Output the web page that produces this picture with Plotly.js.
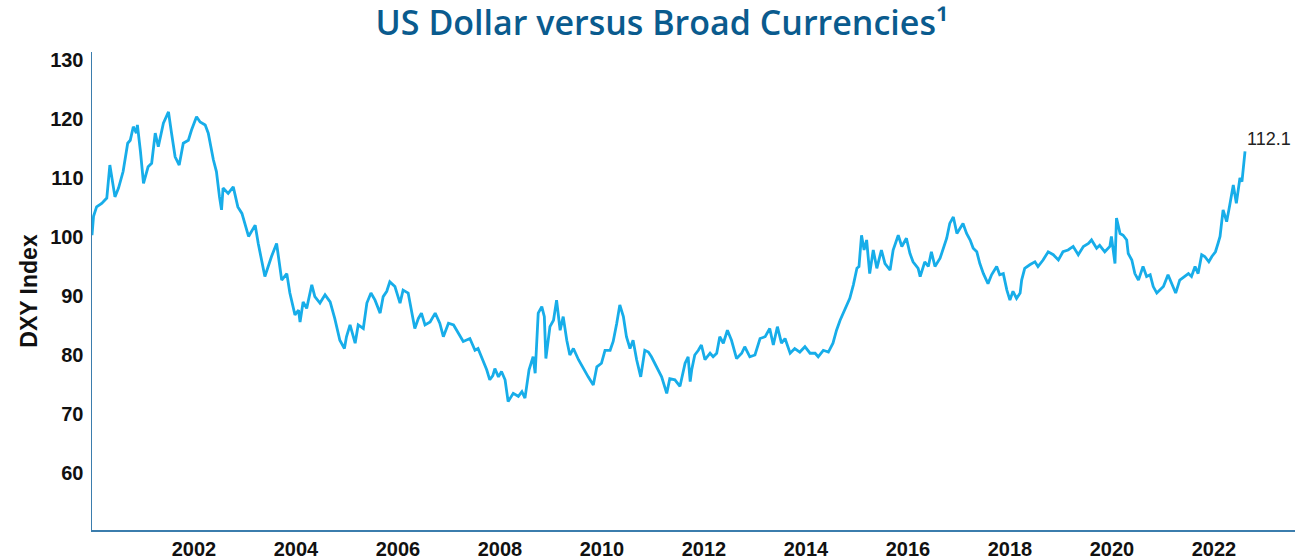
<!DOCTYPE html>
<html>
<head>
<meta charset="utf-8">
<script src="https://cdn.plot.ly/plotly-3.0.1.min.js"></script>
<style>html,body{margin:0;padding:0;background:#fff;}#chart{width:1298px;height:559px;}</style>
</head>
<body>
<div id="chart"></div>
<script>
// Decimal year of each reading
const years = [
2000.00,2000.03,2000.09,2000.19,2000.29,2000.35,2000.45,2000.52,2000.61,2000.70,2000.75,2000.81,2000.87,2000.89,2000.95,
2001.01,2001.10,2001.17,2001.24,2001.30,2001.40,2001.50,2001.56,2001.63,2001.71,2001.79,2001.89,2001.95,
2002.05,2002.12,2002.22,2002.28,2002.38,2002.44,2002.50,2002.54,2002.57,2002.67,2002.77,2002.86,2002.94,
2003.07,2003.20,2003.26,2003.39,2003.52,2003.62,2003.72,2003.82,2003.88,2003.98,
2004.05,2004.08,2004.14,2004.21,2004.31,2004.37,2004.47,2004.57,2004.67,2004.76,2004.86,2004.95,2004.99,
2005.06,2005.16,2005.22,2005.32,2005.39,2005.47,2005.55,2005.65,2005.71,2005.78,2005.84,2005.94,
2006.04,2006.10,2006.20,2006.27,2006.33,2006.40,2006.46,2006.53,2006.63,2006.73,2006.82,2006.89,2006.99,
2007.09,2007.18,2007.28,2007.41,2007.51,2007.57,2007.67,2007.74,2007.80,2007.86,2007.90,2007.97,
2008.03,2008.10,2008.16,2008.26,2008.36,2008.43,2008.49,2008.57,2008.65,2008.69,2008.75,2008.82,2008.87,2008.90,2008.98,
2009.05,2009.11,2009.18,2009.24,2009.31,2009.37,2009.44,2009.54,2009.63,2009.73,2009.83,2009.90,2009.99,
2010.06,2010.16,2010.22,2010.29,2010.35,2010.42,2010.48,2010.55,2010.61,2010.68,2010.76,2010.84,2010.91,2010.97,
2011.07,2011.17,2011.27,2011.33,2011.43,2011.53,2011.63,2011.69,2011.73,2011.76,2011.82,2011.89,2011.95,
2012.02,2012.12,2012.18,2012.25,2012.31,2012.38,2012.46,2012.54,2012.64,2012.74,2012.80,2012.90,
2013.00,2013.10,2013.20,2013.29,2013.36,2013.44,2013.52,2013.59,2013.69,2013.78,2013.88,2013.98,
2014.08,2014.18,2014.24,2014.34,2014.44,2014.53,2014.60,2014.67,2014.73,2014.80,2014.86,2014.93,
2015.00,2015.04,2015.09,2015.14,2015.19,2015.25,2015.32,2015.39,2015.48,2015.55,2015.65,2015.71,2015.81,2015.88,2015.97,
2016.04,2016.10,2016.20,2016.24,2016.33,2016.40,2016.46,2016.53,2016.63,2016.69,2016.76,2016.82,2016.89,2016.96,
2017.02,2017.08,2017.15,2017.22,2017.28,2017.35,2017.41,2017.48,2017.57,2017.64,2017.74,2017.80,2017.87,2017.94,
2018.00,2018.06,2018.13,2018.20,2018.23,2018.29,2018.39,2018.49,2018.55,2018.65,2018.75,2018.85,2018.95,
2019.04,2019.14,2019.24,2019.34,2019.44,2019.54,2019.60,2019.70,2019.76,2019.86,2019.96,2019.99,
2020.06,2020.09,2020.16,2020.22,2020.29,2020.32,2020.39,2020.45,2020.52,2020.61,2020.68,2020.75,2020.81,2020.88,2020.94,
2021.01,2021.10,2021.17,2021.25,2021.33,2021.43,2021.50,2021.56,2021.63,2021.69,2021.76,2021.82,2021.90,2021.96,
2022.03,2022.08,2022.12,2022.18,2022.25,2022.31,2022.38,2022.44,2022.51,2022.55,2022.59,2022.61
];
// DXY index reading at each date
const dxy = [
100.3,103.5,105.1,105.7,106.6,112.2,106.8,108.3,111.1,115.9,116.4,118.7,117.6,119.0,114.5,
109.1,111.9,112.5,117.6,115.3,119.3,121.2,117.6,113.6,112.2,115.9,116.4,118.1,
120.4,119.5,119.0,117.6,113.1,111.1,106.8,104.6,108.3,107.4,108.5,105.1,104.0,
100.1,102.0,98.9,93.3,96.7,98.9,92.7,93.8,90.5,86.8,
87.6,85.6,89.0,87.9,91.9,89.9,88.8,90.2,89.0,86.2,82.5,81.1,83.1,
85.1,82.0,85.1,84.5,88.8,90.5,89.3,87.1,89.9,90.8,92.4,91.6,
88.8,91.0,90.5,87.1,84.5,86.2,87.1,85.1,85.6,87.1,85.4,83.1,85.4,
85.1,83.7,82.3,82.8,80.8,81.1,78.9,77.5,75.8,76.5,77.7,76.3,
77.2,75.8,72.1,73.5,73.0,73.8,72.7,77.5,79.7,76.9,87.1,88.2,86.5,79.4,84.8,
85.9,89.3,84.2,86.5,82.5,80.0,81.1,79.2,77.7,76.3,74.9,78.0,78.6,
80.8,80.8,82.3,85.4,88.5,86.5,83.1,81.1,82.5,79.2,76.3,80.8,80.5,79.7,
78.0,76.3,73.5,76.0,75.8,74.7,78.6,79.7,75.5,77.5,80.0,80.8,81.7,
79.2,80.3,79.7,80.3,83.1,82.0,84.2,82.5,79.4,80.3,81.4,79.7,
80.0,82.8,83.1,84.5,81.7,84.8,82.0,82.8,80.3,81.1,80.5,81.4,
80.3,80.3,79.7,80.8,80.5,82.0,84.2,85.9,87.1,88.5,89.6,91.9,
94.7,95.0,100.3,97.8,99.5,93.8,97.8,94.7,97.8,95.5,94.4,97.8,100.3,98.4,99.8,
97.2,95.8,94.7,93.3,95.8,95.0,97.5,95.0,96.4,98.1,99.8,102.3,103.4,100.6,
101.5,102.3,100.6,99.5,98.1,97.5,95.5,93.8,92.1,93.6,95.0,93.6,93.8,91.0,
89.3,90.8,89.6,90.5,92.7,94.7,95.3,95.8,95.0,96.1,97.5,97.0,96.1,
97.5,97.8,98.4,97.0,98.4,98.9,99.5,98.1,98.6,97.5,98.4,100.1,
95.5,103.2,100.6,100.3,99.5,97.2,96.1,93.8,92.7,95.0,93.3,93.6,91.6,90.5,91.0,
91.6,93.6,92.1,90.5,92.7,93.3,93.8,93.3,95.0,93.8,97.0,96.7,95.8,96.7,
97.5,98.9,100.1,104.6,102.6,105.4,108.8,105.7,110.0,109.4,112.8,114.5
];
const yTicks = [60, 70, 80, 90, 100, 110, 120, 130];
const xTicks = [2002, 2004, 2006, 2008, 2010, 2012, 2014, 2016, 2018, 2020, 2022];
const xTickLabels = ['2002','2004','2006','2008','2010','2012','2014','2016','2018','2020','2022'];
const lastLabel = '112.1';
const titleText = 'US Dollar versus Broad Currencies\u00B9';
const yTitle = 'DXY Index';

const tickFont = {family: 'Liberation Sans, Arial, sans-serif', size: 20, weight: 'bold', color: '#111'};
const axisColor = '#3b7dad';

const trace = {
  x: years, y: dxy, type: 'scatter', mode: 'lines',
  line: {color: '#17ade9', width: 2.8},
  hoverinfo: 'skip'
};

const layout = {
  width: 1298, height: 559,
  margin: {l: 92, r: 3, t: 52, b: 29, pad: 0},
  paper_bgcolor: '#fff', plot_bgcolor: '#fff',
  showlegend: false,
  title: {
    text: titleText,
    font: {family: 'Open Sans, sans-serif', size: 34, weight: 600, color: '#0a5b8e'},
    xref: 'container', x: 0.51, xanchor: 'center',
    yref: 'container', y: 0.958, yanchor: 'middle'
  },
  xaxis: {
    range: [2000, 2023.59], showgrid: false, zeroline: false,
    showline: true, linecolor: axisColor, linewidth: 1.5,
    tickmode: 'array', tickvals: xTicks, ticktext: xTickLabels,
    ticks: '', tickfont: tickFont, automargin: false, ticklabelstandoff: 0
  },
  yaxis: {
    range: [50.34, 131.36], showgrid: false, zeroline: false,
    showline: true, linecolor: axisColor, linewidth: 1.5,
    tickmode: 'array', tickvals: yTicks,
    ticks: '', tickfont: tickFont, automargin: false, ticklabelstandoff: 3,
    title: {text: yTitle, font: {family: 'Liberation Sans, Arial, sans-serif', size: 23, weight: 'bold', color: '#111'}, standoff: 6}
  },
  annotations: [{
    x: years[years.length - 1], y: dxy[dxy.length - 1], xref: 'x', yref: 'y',
    text: lastLabel, showarrow: false, xanchor: 'left', yanchor: 'bottom',
    xshift: 0, yshift: 0,
    font: {family: 'Liberation Sans, Arial, sans-serif', size: 18, color: '#222'}
  }]
};

Plotly.newPlot('chart', [trace], layout, {staticPlot: true, displayModeBar: false});
</script>
</body>
</html>
